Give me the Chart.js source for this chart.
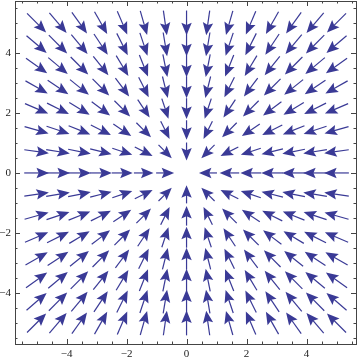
<!DOCTYPE html>
<html>
<head>
<meta charset="utf-8">
<script src="https://cdn.jsdelivr.net/npm/chart.js@4"></script>
<style>
  html, body { margin: 0; padding: 0; background: #fff; }
  #wrap { width: 360px; height: 360px; }
</style>
</head>
<body>
<div id="wrap"><canvas id="field"></canvas></div>
<script>
// grid positions (15 x 15 sample points from -5 to 5)
const gridX = [-5, -4.286, -3.571, -2.857, -2.143, -1.429, -0.714, 0, 0.714, 1.429, 2.143, 2.857, 3.571, 4.286, 5];
const gridY = [-5, -4.286, -3.571, -2.857, -2.143, -1.429, -0.714, 0, 0.714, 1.429, 2.143, 2.857, 3.571, 4.286, 5];
// vector components: x-part per column, y-part per row (all arrows point to the origin)
const colU = [5, 4.286, 3.571, 2.857, 2.143, 1.429, 0.714, 0, -0.714, -1.429, -2.143, -2.857, -3.571, -4.286, -5];
const rowV = [5, 4.286, 3.571, 2.857, 2.143, 1.429, 0.714, 0, -0.714, -1.429, -2.143, -2.857, -3.571, -4.286, -5];
// labelled ticks
const xTickLabels = [-4, -2, 0, 2, 4];
const yTickLabels = [-4, -2, 0, 2, 4];

const arrowColor = 'rgb(58, 58, 150)';

// build the point table from the small arrays
const points = [];
gridY.forEach((y, j) => {
  gridX.forEach((x, i) => {
    points.push({ x: x, y: y, u: colU[i], v: rowV[j] });
  });
});

// draws an arrow at each data point, centred on the point
const arrowPlugin = {
  id: 'arrows',
  afterDatasetsDraw(chart) {
    const ctx = chart.ctx;
    const xs = chart.scales.x, ys = chart.scales.y;
    const maxMag = Math.sqrt(50);
    ctx.save();
    points.forEach(p => {
      const mag = Math.hypot(p.u, p.v);
      if (mag === 0) return;
      const cx = xs.getPixelForValue(p.x);
      const cy = ys.getPixelForValue(p.y);
      // direction in pixel space
      const dx = xs.getPixelForValue(p.x + p.u) - cx;
      const dy = ys.getPixelForValue(p.y + p.v) - cy;
      const d = Math.hypot(dx, dy);
      const ux = dx / d, uy = dy / d;
      const len = 15 + 12 * Math.pow(mag / maxMag, 0.6);
      const tx = cx + ux * len / 2, ty = cy + uy * len / 2; // tip
      const bx = cx - ux * len / 2, by = cy - uy * len / 2; // tail
      const headLen = 12.5, headW = 5.2;
      // shaft
      ctx.strokeStyle = arrowColor;
      ctx.lineWidth = 1.2;
      ctx.beginPath();
      ctx.moveTo(bx, by);
      ctx.lineTo(tx - ux * headLen * 0.6, ty - uy * headLen * 0.6);
      ctx.stroke();
      // head
      const hx = tx - ux * headLen, hy = ty - uy * headLen;
      const nx = tx - ux * headLen * 0.82, ny = ty - uy * headLen * 0.82;
      ctx.fillStyle = arrowColor;
      ctx.beginPath();
      ctx.moveTo(tx, ty);
      ctx.lineTo(hx - uy * headW, hy + ux * headW);
      ctx.lineTo(nx, ny);
      ctx.lineTo(hx + uy * headW, hy - ux * headW);
      ctx.closePath();
      ctx.fill();
    });
    ctx.restore();
  }
};

// frame with tick marks on all four sides
const framePlugin = {
  id: 'frame',
  afterDraw(chart) {
    const ctx = chart.ctx;
    const a = chart.chartArea;
    const xs = chart.scales.x, ys = chart.scales.y;
    ctx.save();
    ctx.strokeStyle = '#444';
    ctx.lineWidth = 1;
    ctx.strokeRect(Math.round(a.left) + 0.5, Math.round(a.top) + 0.5,
      Math.round(a.right - a.left), Math.round(a.bottom - a.top));
    ctx.beginPath();
    for (let v = -5.5; v <= 5.5; v += 0.5) {
      const major = Number.isInteger(v / 2);
      const t = major ? 5 : 2.5;
      const px = Math.round(xs.getPixelForValue(v)) + 0.5;
      if (px > a.left && px < a.right) {
        ctx.moveTo(px, a.bottom); ctx.lineTo(px, a.bottom - t);
        ctx.moveTo(px, a.top); ctx.lineTo(px, a.top + t);
      }
      const py = Math.round(ys.getPixelForValue(v)) + 0.5;
      if (py > a.top && py < a.bottom) {
        ctx.moveTo(a.left, py); ctx.lineTo(a.left + t, py);
        ctx.moveTo(a.right, py); ctx.lineTo(a.right - t, py);
      }
    }
    ctx.stroke();
    ctx.restore();
  }
};

const fmt = v => String(v).replace('-', '\u2212');

new Chart(document.getElementById('field'), {
  type: 'scatter',
  data: {
    datasets: [{
      data: points,
      pointRadius: 0,
      pointHoverRadius: 0,
      showLine: false
    }]
  },
  options: {
    responsive: true,
    maintainAspectRatio: false,
    animation: false,
    events: [],
    layout: { padding: { top: 1, right: 4, left: 0, bottom: 0 } },
    plugins: { legend: { display: false }, tooltip: { enabled: false } },
    scales: {
      x: {
        type: 'linear',
        min: -5.72, max: 5.65,
        grid: { display: false, drawTicks: false },
        border: { display: false },
        afterBuildTicks: s => { s.ticks = xTickLabels.map(v => ({ value: v })); },
        afterFit: s => { s.height = 16; s.paddingLeft = 0; s.paddingRight = 0; },
        ticks: {
          padding: 4,
          maxRotation: 0,
          color: '#222',
          font: { family: 'Liberation Serif', size: 11 },
          callback: v => fmt(v)
        }
      },
      y: {
        type: 'linear',
        min: -5.7, max: 5.73,
        grid: { display: false, drawTicks: false },
        border: { display: false },
        afterBuildTicks: s => { s.ticks = yTickLabels.map(v => ({ value: v })); },
        afterFit: s => { s.width = 15; s.paddingTop = 0; s.paddingBottom = 0; },
        ticks: {
          padding: 4,
          color: '#222',
          font: { family: 'Liberation Serif', size: 11 },
          callback: v => fmt(v)
        }
      }
    }
  },
  plugins: [arrowPlugin, framePlugin]
});
</script>
</body>
</html>
